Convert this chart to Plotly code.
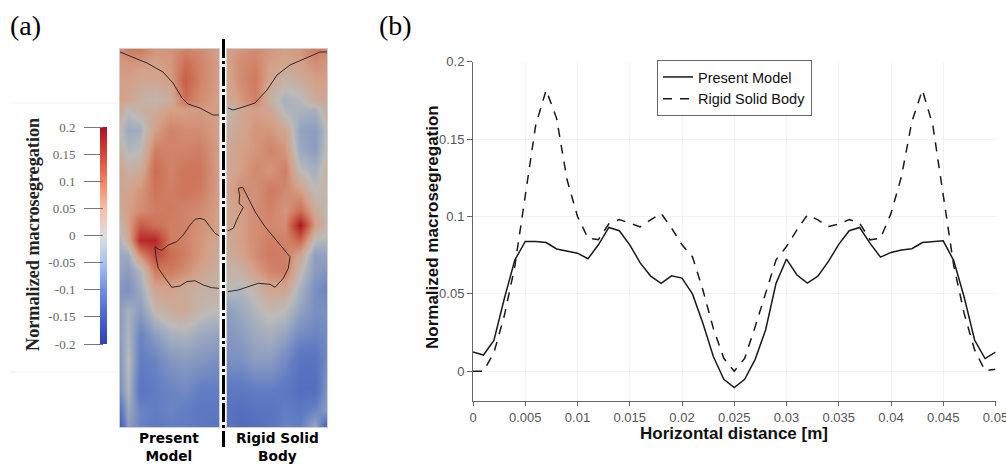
import plotly.graph_objects as go

# ---------- panel (b) data ----------
distance = [i / 1000 for i in range(51)]
present_model = [0.0125, 0.0105, 0.020, 0.047, 0.0718, 0.0839, 0.0839, 0.0832, 0.079, 0.0778,
                 0.0763, 0.0727, 0.0817, 0.0929, 0.0908, 0.0817, 0.070, 0.0615, 0.0568, 0.0617,
                 0.0602, 0.050, 0.031, 0.0095, -0.0052, -0.0105, -0.0052, 0.0077, 0.0267, 0.0568,
                 0.0725, 0.0622, 0.057, 0.0615, 0.0708, 0.082, 0.0908, 0.0929, 0.0826, 0.0737,
                 0.0768, 0.0783, 0.0792, 0.0832, 0.0839, 0.0843, 0.0715, 0.048, 0.0202, 0.0082, 0.0123]
rigid_body = [0.0, 0.0, 0.012, 0.036, 0.0677, 0.1146, 0.159, 0.1817, 0.1634, 0.1237,
              0.1, 0.086, 0.085, 0.0953, 0.098, 0.0957, 0.0933, 0.0978, 0.102, 0.0925,
              0.0817, 0.074, 0.0525, 0.0277, 0.0084, 0.0, 0.0084, 0.0288, 0.0503, 0.072,
              0.0806, 0.0914, 0.101, 0.0978, 0.0935, 0.095, 0.098, 0.0957, 0.0849, 0.086,
              0.102, 0.1258, 0.1613, 0.1817, 0.159, 0.1148, 0.0684, 0.0374, 0.0138, 0.0004, 0.0013]
x_ticks = [0, 0.005, 0.01, 0.015, 0.02, 0.025, 0.03, 0.035, 0.04, 0.045, 0.05]
x_labels = ["0", "0.005", "0.01", "0.015", "0.02", "0.025", "0.03", "0.035", "0.04", "0.045", "0.05"]
y_ticks = [0, 0.05, 0.1, 0.15, 0.2]
y_labels = ["0", "0.05", "0.1", "0.15", "0.2"]

# ---------- panel (a) data ----------
depth = [49, 62, 80, 100, 110, 130, 150, 170, 190, 210, 225, 240, 255, 270, 290, 310, 335, 360, 390, 410, 427]
left_across = [120, 128, 140, 155, 170, 185, 200, 219]
right_across = [227, 240, 255, 270, 285, 300, 315, 327]
field_left = [
    [.07, .09, .09, .06, .06, .08, .07, .05],
    [.06, .06, .06, .05, .06, .10, .08, .05],
    [.05, .05, .04, .04, .05, .12, .08, .05],
    [.05, .04, .02, .01, .025, .10, .07, .05],
    [.03, .00, .02, .03, .05, .05, .055, .05],
    [.00, -.03, -.02, .05, .08, .07, .07, .05],
    [.02, -.01, .00, .085, .08, .08, .085, .05],
    [.045, .02, .03, .105, .08, .095, .095, .05],
    [.04, .04, .06, .095, .085, .095, .09, .05],
    [.03, .05, .07, .085, .09, .08, .07, .05],
    [.01, .05, .12, .10, .085, .08, .065, .05],
    [-.01, .03, .17, .17, .09, .08, .06, .04],
    [-.03, -.03, .07, .14, .105, .085, .06, .03],
    [-.04, -.05, -.01, .09, .09, .07, .045, .025],
    [-.06, -.07, -.03, .04, .045, .03, .02, .015],
    [-.05, -.02, -.05, .01, .03, .035, .01, .00],
    [-.05, -.01, -.09, -.05, -.02, -.015, -.03, -.04],
    [-.06, .00, -.10, -.09, -.06, -.05, -.06, -.07],
    [-.07, -.01, -.12, -.10, -.09, -.08, -.10, -.10],
    [-.12, -.03, -.09, -.10, -.09, -.10, -.11, -.11],
    [-.17, -.05, -.09, -.11, -.10, -.10, -.11, -.12],
]
field_right = [
    [.05, .06, .07, .06, .05, .06, .09, .08],
    [.045, .07, .08, .05, .045, .05, .07, .06],
    [.04, .07, .09, .04, .015, .03, .05, .05],
    [.03, .055, .085, .02, -.02, -.005, .03, .04],
    [.00, .04, .05, .04, -.01, -.015, -.02, .03],
    [.025, .04, .06, .06, .04, -.04, -.05, .00],
    [.03, .05, .06, .08, .06, -.03, -.05, .01],
    [.03, .05, .075, .06, .085, .00, -.02, .02],
    [.04, .07, .065, .09, .075, .05, .00, .015],
    [.035, .05, .07, .08, .06, .10, .03, .01],
    [.035, .05, .07, .075, .07, .19, .05, .01],
    [.03, .05, .07, .085, .08, .11, .00, -.01],
    [.025, .04, .07, .09, .085, .04, -.05, -.04],
    [.015, .02, .05, .08, .085, .01, -.05, -.06],
    [.00, -.01, .01, .04, .04, -.02, -.07, -.09],
    [-.05, -.03, -.01, .01, .00, -.04, -.07, -.07],
    [-.06, -.05, -.03, -.02, -.04, -.08, -.09, -.08],
    [-.07, -.07, -.05, -.05, -.08, -.12, -.12, -.08],
    [-.11, -.11, -.10, -.10, -.11, -.13, -.13, -.06],
    [-.12, -.13, -.12, -.12, -.10, -.11, -.09, -.05],
    [-.12, -.14, -.13, -.12, -.09, -.10, -.03, -.17],
]
top_left_x = [120, 133, 147, 163, 173, 182, 188, 200, 213, 219]
top_left_y = [52, 57, 63, 72, 83, 98, 104, 108, 115, 115]
top_right_x = [228, 233, 243, 255, 267, 277, 290, 307, 320, 327]
top_right_y = [108, 110, 107, 103, 90, 75, 65, 58, 52, 52]
low_left_x = [219, 215, 210, 205, 200, 195, 190, 183.3, 176.7, 168.3, 161.7, 158.3, 155, 155.7, 158.3,
              165, 171.7, 180, 186.7, 195, 203.3, 211.7, 219]
low_left_y = [235.7, 233.3, 226.7, 220, 218.3, 219.3, 225, 235, 241.7, 245, 250.3, 249, 246.7, 255,
              268.3, 278.3, 287.3, 286, 281.7, 280.7, 285, 287.7, 288.3]
low_right_x = [227.7, 233.3, 238.3, 243.3, 239, 239.7, 238.3, 242.7, 246.7, 255, 265, 275, 285, 290,
               288.3, 283.3, 275, 270, 258.3, 248.3, 238.3, 227.7]
low_right_y = [231, 228.3, 216.7, 207.3, 203.3, 195, 188.3, 187.3, 195, 211.7, 226.7, 238.3, 250,
               256.7, 268.3, 278.3, 287.3, 284.3, 283.3, 286.7, 290, 291.7]
bar_levels = [-0.2, -0.15, -0.1, -0.05, 0, 0.05, 0.1, 0.15, 0.2]
bar_ticks = [-0.2, -0.15, -0.1, -0.05, 0, 0.05, 0.1, 0.15, 0.2]
bar_labels = ["-0.2", "-0.15", "-0.1", "-0.05", "0", "0.05", "0.1", "0.15", "0.2"]

W, H = 1006, 464


def dx(a, b):
    return [a / W, b / W]


def dy(top, bottom):
    return [1 - bottom / H, 1 - top / H]


field_scale = [
    [0.0, "rgb(58,76,175)"], [0.25, "rgb(98,125,195)"], [0.45, "rgb(165,175,190)"],
    [0.5, "rgb(188,186,182)"], [0.625, "rgb(212,160,135)"], [0.75, "rgb(205,112,85)"],
    [0.875, "rgb(190,60,52)"], [1.0, "rgb(170,10,32)"],
]
bar_scale = [
    [0.0, "rgb(50,65,180)"], [0.125, "rgb(70,100,212)"], [0.25, "rgb(110,140,232)"],
    [0.375, "rgb(170,192,242)"], [0.5, "rgb(222,222,222)"], [0.625, "rgb(246,190,165)"],
    [0.75, "rgb(245,130,100)"], [0.875, "rgb(215,70,55)"], [1.0, "rgb(178,15,40)"],
]

fig = go.Figure()
fig.add_trace(go.Heatmap(x=left_across, y=depth, z=field_left, zmin=-0.2, zmax=0.2, zsmooth="best",
                         colorscale=field_scale, showscale=False, xaxis="x", yaxis="y"))
fig.add_trace(go.Heatmap(x=right_across, y=depth, z=field_right, zmin=-0.2, zmax=0.2, zsmooth="best",
                         colorscale=field_scale, showscale=False, xaxis="x2", yaxis="y2"))
contour = dict(color="#2a2a2a", width=1)
for cx, cy, xa, ya in [(top_left_x, top_left_y, "x", "y"), (low_left_x, low_left_y, "x", "y"),
                       (top_right_x, top_right_y, "x2", "y2"), (low_right_x, low_right_y, "x2", "y2")]:
    fig.add_trace(go.Scatter(x=cx, y=cy, mode="lines", line=contour, showlegend=False,
                             hoverinfo="skip", xaxis=xa, yaxis=ya))
fig.add_trace(go.Heatmap(x=[0], y=bar_levels, z=[[v] for v in bar_levels], zmin=-0.2, zmax=0.2, zsmooth="best",
                         colorscale=bar_scale, showscale=False, xaxis="x3", yaxis="y3"))
fig.add_trace(go.Scatter(x=distance, y=present_model, mode="lines", name="Present Model",
                         line=dict(color="#1a1a1a", width=1.5), xaxis="x4", yaxis="y4"))
fig.add_trace(go.Scatter(x=distance, y=rigid_body, mode="lines", name="Rigid Solid Body",
                         line=dict(color="#1a1a1a", width=1.5, dash="9px,8px"), xaxis="x4", yaxis="y4"))

panel_axis = dict(showticklabels=False, ticks="", showgrid=False, zeroline=False, automargin=False,
                  showline=True, mirror=True, linecolor="#d0d0d0", linewidth=1)
serif = "Liberation Serif"
sans = "Liberation Sans"


def note(text, x, y, family, size, color="black", angle=0, anchor="center"):
    return dict(text=text, xref="paper", yref="paper", x=x / W, y=1 - y / H, xanchor=anchor, yanchor="middle",
                showarrow=False, textangle=angle, font=dict(family=family, size=size, color=color))


fig.update_layout(
    width=W, height=H, autosize=False, margin=dict(l=0, r=0, t=0, b=0),
    paper_bgcolor="white", plot_bgcolor="white", font=dict(family=sans),
    xaxis=dict(domain=dx(120, 219), range=[120, 219], **panel_axis),
    yaxis=dict(domain=dy(49, 427), range=[427, 49], **panel_axis),
    xaxis2=dict(domain=dx(227, 327), range=[227, 327], anchor="y2", **panel_axis),
    yaxis2=dict(domain=dy(49, 427), range=[427, 49], anchor="x2", **panel_axis),
    xaxis3=dict(domain=dx(100, 107), range=[-0.5, 0.5], anchor="y3", visible=False, automargin=False),
    yaxis3=dict(domain=dy(127, 344), range=[-0.2, 0.2], anchor="free", position=103 / W, automargin=False,
                tickvals=bar_ticks, ticktext=bar_labels, ticks="outside", ticklen=19, tickcolor="#777777",
                tickwidth=1, ticklabelstandoff=6, showline=False, showgrid=False, zeroline=False,
                tickfont=dict(family=serif, size=13, color="#666666")),
    xaxis4=dict(domain=dx(473, 995.5), range=[0, 0.05], anchor="y4", tickvals=x_ticks, ticktext=x_labels,
                ticks="outside", ticklen=4, tickcolor="#666666", showline=True, linecolor="#666666", linewidth=1,
                showgrid=True, gridcolor="#f2f2f2", zeroline=False, automargin=False, ticklabeloverflow="allow",
                tickfont=dict(family=sans, size=13, color="#555555")),
    yaxis4=dict(domain=dy(61.7, 401.3), range=[-0.0194, 0.2], anchor="x4", tickvals=y_ticks, ticktext=y_labels,
                ticks="outside", ticklen=5, tickcolor="#666666", showline=True, linecolor="#666666", linewidth=1,
                showgrid=True, gridcolor="#f2f2f2", zeroline=False, automargin=False,
                tickfont=dict(family=sans, size=13, color="#555555")),
    legend=dict(x=657 / W, y=1 - 60 / H, xanchor="left", yanchor="top", bordercolor="#666666", borderwidth=1,
                bgcolor="white", font=dict(family=sans, size=14.5, color="#111111")),
    shapes=[
        dict(type="line", xref="paper", yref="paper", x0=223.5 / W, x1=223.5 / W, y0=1 - 39 / H, y1=1 - 447 / H,
             line=dict(color="black", width=3, dash="19px,3px,3px,3px")),
        dict(type="line", xref="paper", yref="paper", x0=10 / W, x1=118 / W, y0=1 - 103 / H, y1=1 - 103 / H,
             line=dict(color="#f2f2f2", width=1)),
        dict(type="line", xref="paper", yref="paper", x0=10 / W, x1=118 / W, y0=1 - 372 / H, y1=1 - 372 / H,
             line=dict(color="#f2f2f2", width=1)),
    ],
    annotations=[
        note("(a)", 8, 26, serif, 28, anchor="left"),
        note("(b)", 377, 26, serif, 28, anchor="left"),
        note("<b>Present<br>Model</b>", 169, 447, "DejaVu Sans", 13.7),
        note("<b>Rigid Solid<br>Body</b>", 277, 447, "DejaVu Sans", 13.7),
        note("<b>Normalized macrosegregation</b>", 33, 235, serif, 18.2, "#222222", -90),
        note("<b>Normalized macrosegregation</b>", 432, 227, sans, 17, "#111111", -90),
        note("<b>Horizontal distance [m]</b>", 734, 433, sans, 17, "#111111"),
    ],
)
fig.write_html("out.html", config={"displayModeBar": False},
               post_script="document.body.style.margin='0';document.body.style.overflow='hidden';")
